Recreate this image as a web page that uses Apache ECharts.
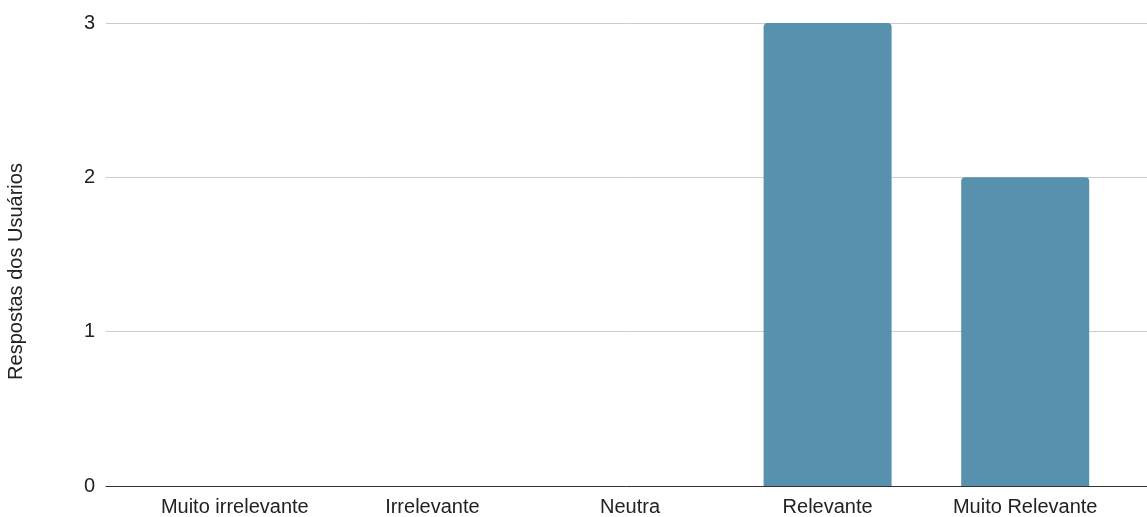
<!DOCTYPE html>
<html>
<head>
<meta charset="utf-8">
<script src="https://cdn.jsdelivr.net/npm/echarts@6/dist/echarts.min.js"></script>
<style>
  html, body { margin: 0; padding: 0; background: #fff; }
  #chart { width: 1147px; height: 517px; }
</style>
</head>
<body>
<div id="chart"></div>
<script>
// Survey answers: how relevant users found the feature
const categories = ['Muito irrelevante', 'Irrelevante', 'Neutra', 'Relevante', 'Muito Relevante'];
const responses = [0, 0, 0, 3, 2];
const yTicks = [0, 1, 2, 3];
const yAxisTitle = 'Respostas dos Usuários';

const font = '"Liberation Sans", Arial, sans-serif';
const textColor = '#222';
const fontSize = 20;

const chart = echarts.init(document.getElementById('chart'), null, { renderer: 'canvas' });

chart.setOption({
  animation: false,
  backgroundColor: '#fff',
  grid: [
    // frame: gridlines, y labels and baseline across the full width
    { left: 106, right: 0, top: 23, bottom: 31, outerBoundsMode: 'none' },
    // bars and category labels
    { left: 136, right: 23, top: 23, bottom: 31, outerBoundsMode: 'none' }
  ],
  xAxis: [
    {
      gridIndex: 0,
      type: 'category',
      data: [''],
      axisLine: { show: true, lineStyle: { color: '#333', width: 1 } },
      axisTick: { show: false },
      axisLabel: { show: false },
      splitLine: { show: false }
    },
    {
      gridIndex: 1,
      type: 'category',
      data: categories,
      axisLine: { show: false },
      axisTick: { show: false },
      axisLabel: {
        color: textColor,
        fontFamily: font,
        fontSize: fontSize,
        margin: 11,
        interval: 0
      }
    }
  ],
  yAxis: [
    {
      gridIndex: 0,
      type: 'value',
      min: yTicks[0],
      max: yTicks[yTicks.length - 1],
      interval: 1,
      name: yAxisTitle,
      nameLocation: 'middle',
      nameGap: 80,
      nameTextStyle: {
        color: textColor,
        fontFamily: font,
        fontSize: fontSize,
        padding: [0, 34, 0, 0]
      },
      axisLine: { show: false },
      axisTick: { show: false },
      axisLabel: { color: textColor, fontFamily: font, fontSize: fontSize, margin: 11 },
      splitLine: { show: true, lineStyle: { color: '#cccccc', width: 1 } }
    },
    {
      gridIndex: 1,
      type: 'value',
      min: yTicks[0],
      max: yTicks[yTicks.length - 1],
      show: false,
      splitLine: { show: false }
    }
  ],
  series: [
    {
      type: 'bar',
      xAxisIndex: 1,
      yAxisIndex: 1,
      data: responses,
      barWidth: 128,
      itemStyle: { color: '#5891ad', borderRadius: [4, 4, 0, 0] },
      z: 1
    }
  ]
});
</script>
</body>
</html>
